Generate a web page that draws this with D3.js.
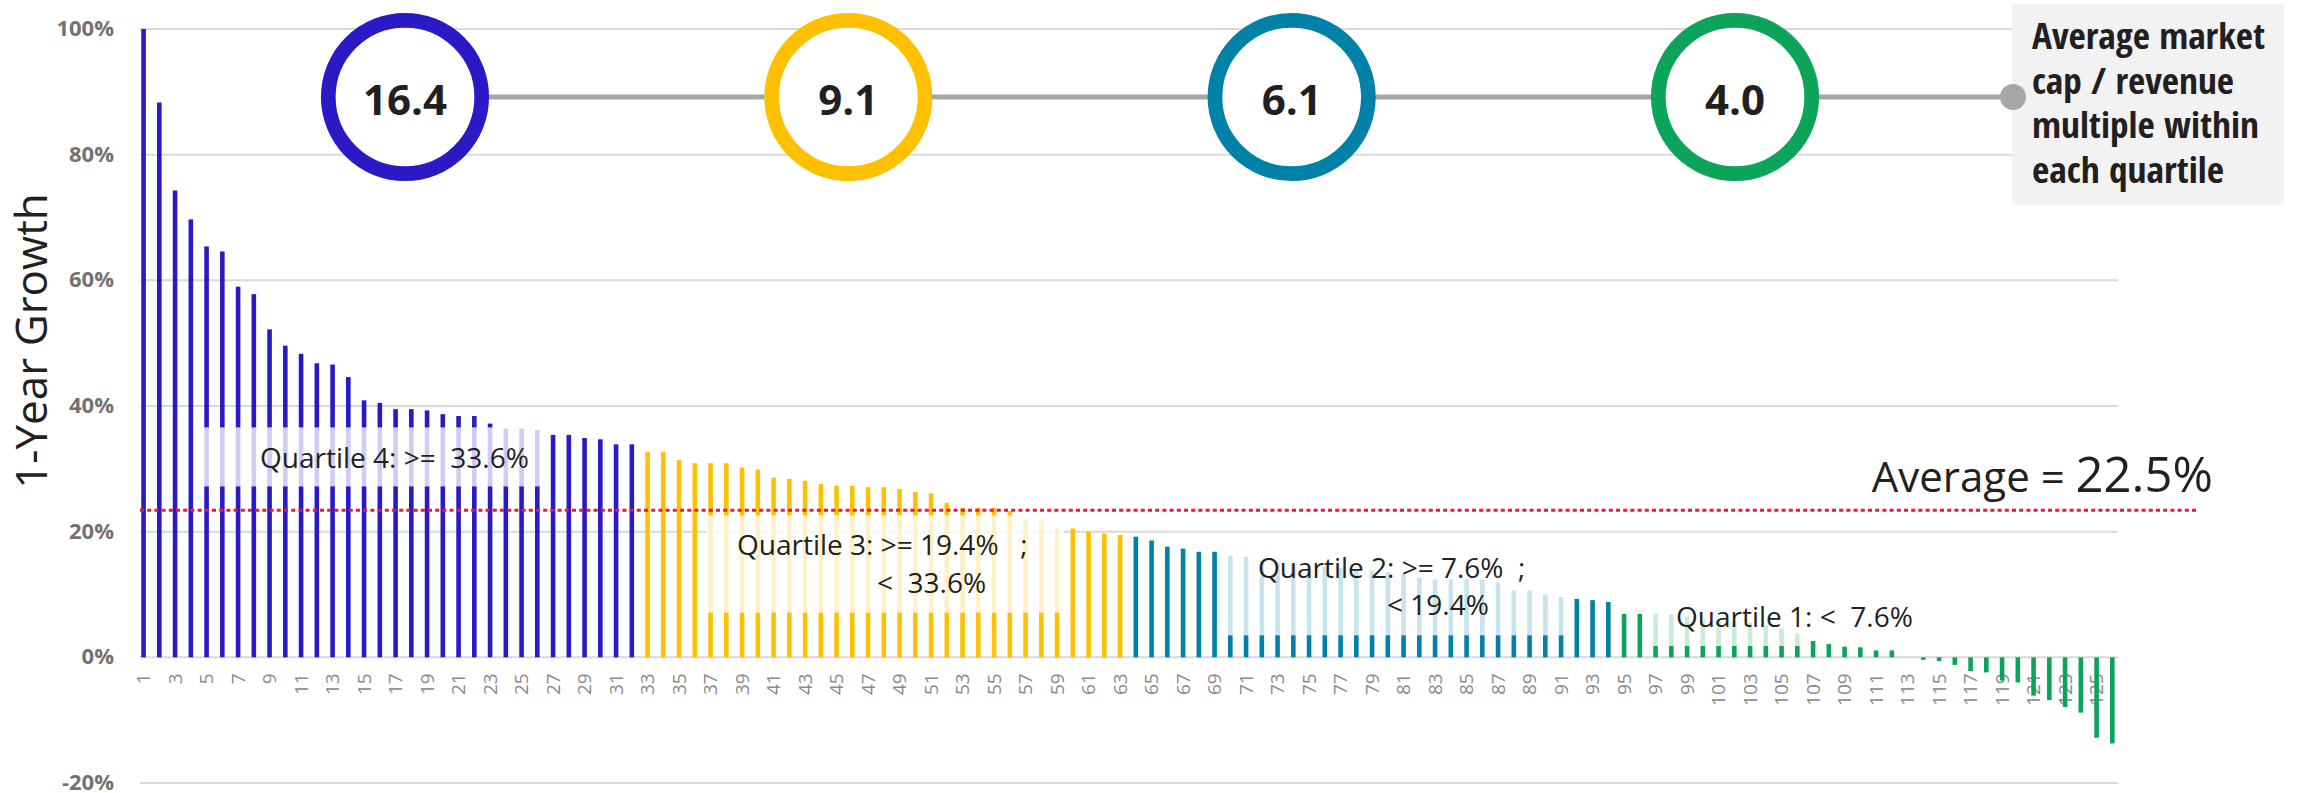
<!DOCTYPE html>
<html>
<head>
<meta charset="utf-8">
<script src="https://cdn.jsdelivr.net/npm/d3@7"></script>
<style>
  html, body { margin: 0; padding: 0; background: #fff; }
  svg { display: block; }
</style>
</head>
<body>
<svg id="chart" width="2297" height="793"></svg>
<script>
// companies ranked by 1-year growth (%)
const growth = [
  100.0, 88.3, 74.3, 69.7, 65.4, 64.6, 59.0, 57.8, 52.2, 49.6,
  48.3, 46.8, 46.6, 44.6, 40.9, 40.5, 39.5, 39.5, 39.3, 38.7,
  38.4, 38.4, 37.2, 36.4, 36.4, 36.2, 35.4, 35.4, 34.9, 34.7,
  33.9, 33.9, 32.7, 32.7, 31.4, 30.9, 30.9, 30.9, 30.2, 29.9,
  28.6, 28.4, 28.1, 27.6, 27.3, 27.3, 27.1, 27.1, 26.8, 26.3,
  26.1, 24.6, 23.8, 23.8, 23.8, 23.3, 21.8, 21.8, 20.5, 20.5,
  20.0, 19.7, 19.5, 19.2, 18.6, 17.6, 17.3, 16.8, 16.8, 16.2,
  16.0, 15.4, 15.1, 14.7, 14.4, 14.4, 14.2, 13.9, 13.8, 13.6,
  13.1, 12.7, 12.4, 12.4, 12.4, 12.4, 11.9, 10.6, 10.6, 10.0,
  9.6, 9.3, 9.1, 8.8, 6.9, 6.9, 6.9, 6.9, 6.5, 5.9,
  5.8, 5.7, 5.6, 5.0, 4.6, 3.8, 2.6, 2.1, 1.7, 1.6,
  1.1, 1.1, 0.0, -0.4, -0.6, -1.2, -2.2, -2.4, -3.7, -4.0,
  -6.1, -6.8, -7.9, -8.8, -12.8, -13.7
];

// quartiles: number of companies in each, colour, multiple
const quartileNames = ["Q4", "Q3", "Q2", "Q1"];
const quartileCounts = [32, 31, 31, 32];
const quartileColors = ["#2a1ac6", "#ffc000", "#0081a7", "#0ba45a"];
const multiples = ["16.4", "9.1", "6.1", "4.0"];

// label boxes: [first company, last company, top %, bottom %]
const labelBoxes = [
  [5, 26, 36.6, 27.2],
  [37.2, 59, 22.6, 7.1],
  [69.8, 91, 18.5, 3.5],
  [97, 106, 9.0, 1.8]
];
const labelLines = [
  [["Quartile 4: >=  33.6%", 260, 468]],
  [["Quartile 3: >= 19.4%   ;", 737, 555], ["<  33.6%", 877, 593]],
  [["Quartile 2: >= 7.6%  ;", 1258, 578], ["< 19.4%", 1387, 615]],
  [["Quartile 1: <  7.6%", 1676, 627]]
];

const average = 23.4;  // where the dotted line sits
const averageLabel = "22.5%";
const yTicks = [-20, 0, 20, 40, 60, 80, 100];
const legendLines = ["Average market", "cap / revenue", "multiple within", "each quartile"];
const legendWidths = [233, 202, 227, 192];

const svg = d3.select("#chart");
const ids = growth.map((d, i) => i + 1);

const x = d3.scaleBand().domain(ids).range([135.7, 2120.2]);
const y = d3.scaleLinear().domain([-20, 100]).range([783, 29]);

const quartileOf = [];
quartileCounts.forEach((n, q) => { for (let k = 0; k < n; k++) quartileOf.push(q); });

// gridlines
svg.append("g")
  .selectAll("line")
  .data(yTicks)
  .join("line")
  .attr("x1", 140).attr("x2", 2118)
  .attr("y1", d => y(d)).attr("y2", d => y(d))
  .attr("stroke", "#d9d9d9")
  .attr("stroke-width", 2);

// y axis labels
const yAxis = svg.append("g")
  .attr("transform", "translate(116,0)")
  .call(d3.axisLeft(y).tickValues(yTicks).tickFormat(d => d + "%").tickSize(0).tickPadding(2));
yAxis.select(".domain").remove();
yAxis.selectAll("text")
  .attr("dy", "0.3em")
  .attr("font-family", "Open Sans")
  .attr("font-weight", "bold")
  .attr("font-size", 22)
  .attr("fill", "#767171");

// x axis labels
const xAxis = svg.append("g")
  .attr("transform", "translate(0," + y(0) + ")")
  .call(d3.axisBottom(x).tickValues(ids.filter(d => d % 2 === 1)).tickSize(0));
xAxis.select(".domain").remove();
xAxis.selectAll("text")
  .attr("transform", "rotate(-90)")
  .attr("text-anchor", "end")
  .attr("x", -16)
  .attr("y", 0)
  .attr("dy", "0.35em")
  .attr("font-family", "Open Sans")
  .attr("font-size", 19)
  .attr("fill", "#8c8888");

// bars
const barW = 4.6;
svg.append("g")
  .selectAll("rect")
  .data(growth)
  .join("rect")
  .attr("x", (d, i) => x(i + 1) + x.bandwidth() / 2 - barW / 2)
  .attr("width", barW)
  .attr("y", d => y(Math.max(d, 0)))
  .attr("height", d => Math.abs(y(d) - y(0)))
  .attr("fill", (d, i) => quartileColors[quartileOf[i]]);

// translucent boxes behind the quartile labels
const bandPos = v => x(1) + x.bandwidth() / 2 + (v - 1) * x.step();
svg.append("g")
  .selectAll("rect")
  .data(labelBoxes)
  .join("rect")
  .attr("x", d => bandPos(d[0]) - 7)
  .attr("width", d => bandPos(d[1]) - bandPos(d[0]) + 14)
  .attr("y", d => y(d[2]))
  .attr("height", d => y(d[3]) - y(d[2]))
  .attr("fill", "#fff")
  .attr("opacity", 0.78);

const labels = svg.append("g")
  .attr("font-family", "Open Sans")
  .attr("font-size", 28)
  .attr("fill", "#231f20");
labelLines.forEach(lines => {
  lines.forEach(l => {
    labels.append("text").attr("x", l[1]).attr("y", l[2])
      .attr("xml:space", "preserve").style("white-space", "pre").text(l[0]);
  });
});

// average line
svg.append("line")
  .attr("x1", 140).attr("x2", 2196)
  .attr("y1", y(average)).attr("y2", y(average))
  .attr("stroke", "#f0143c")
  .attr("stroke-width", 3)
  .attr("stroke-dasharray", "4,3.2");

const avgText = svg.append("text")
  .attr("x", 2213).attr("y", 492)
  .attr("text-anchor", "end")
  .attr("font-family", "Open Sans")
  .attr("fill", "#231f20");
avgText.append("tspan").attr("font-size", 42).text("Average = ");
avgText.append("tspan").attr("font-size", 49).text(averageLabel);

// y title
svg.append("text")
  .attr("transform", "translate(47,341)rotate(-90)")
  .attr("text-anchor", "middle")
  .attr("font-family", "Open Sans")
  .attr("font-size", 44)
  .attr("fill", "#231f20")
  .text("1-Year Growth");

// multiples row
const cx = d3.scalePoint().domain(quartileNames).range([405, 1735]);
const rowY = 97;
svg.append("line")
  .attr("x1", cx("Q4")).attr("x2", 2013)
  .attr("y1", rowY).attr("y2", rowY)
  .attr("stroke", "#a6a6a6")
  .attr("stroke-width", 5);

// legend box
svg.append("rect")
  .attr("x", 2012).attr("y", 4)
  .attr("width", 272).attr("height", 201)
  .attr("fill", "#f2f2f2");
svg.append("circle")
  .attr("cx", 2013).attr("cy", rowY).attr("r", 13)
  .attr("fill", "#a6a6a6");
svg.append("g")
  .selectAll("text")
  .data(legendLines)
  .join("text")
  .attr("x", 2032)
  .attr("y", (d, i) => 49 + i * 44.7)
  .attr("font-family", "Open Sans Condensed, Liberation Sans Narrow, DejaVu Sans Condensed, sans-serif")
  .attr("font-stretch", "condensed")
  .attr("font-weight", "bold")
  .attr("font-size", 36)
  .attr("fill", "#231f20")
  .attr("textLength", (d, i) => legendWidths[i])
  .attr("lengthAdjust", "spacingAndGlyphs")
  .text(d => d);

const circles = svg.append("g")
  .selectAll("g")
  .data(quartileNames)
  .join("g")
  .attr("transform", d => "translate(" + cx(d) + "," + rowY + ")");
circles.append("circle")
  .attr("r", 76.7)
  .attr("fill", "#fff")
  .attr("stroke", (d, i) => quartileColors[i])
  .attr("stroke-width", 14.7);
circles.append("text")
  .attr("text-anchor", "middle")
  .attr("dy", "0.43em")
  .attr("font-family", "Open Sans")
  .attr("font-weight", "bold")
  .attr("font-size", 42)
  .attr("fill", "#231f20")
  .text((d, i) => multiples[i]);
</script>
</body>
</html>
